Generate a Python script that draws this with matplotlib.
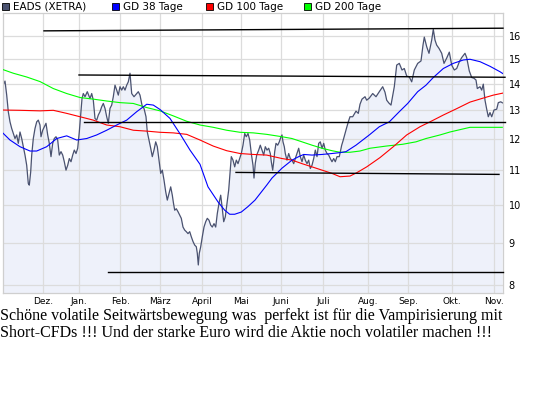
import matplotlib
matplotlib.use("Agg")
import matplotlib.pyplot as plt
from matplotlib.patches import Rectangle
from matplotlib.ticker import FixedLocator, NullLocator, FuncFormatter

# Zeitachse: Position der Handelstage auf dem Chart (0 = linker Rand), Kurse in EUR
kurs_t = [2.7, 5, 6.7, 8.3, 10, 11.7, 13.3, 15, 16.7, 18.3, 20, 21.7, 23.3, 25, 26.7, 28.3, 29.3, 30.7,
          31.7, 33.3, 35, 36.7, 38.3, 40, 41, 42.7, 44.3, 46, 47.7, 49.3, 51, 52.7, 54.3, 56, 57.7, 59.3,
          61, 62.7, 64.3, 66, 67.7, 69.3, 71, 72.7, 74.3, 76, 77.7, 79.3, 80.7, 82, 83.3, 85, 87.3, 90,
          91.7, 93.3, 95, 96.7, 98.3, 100, 101.7, 103.3, 105, 106.7, 108.3, 110, 111.7, 113.3, 115, 116.7,
          118.3, 120, 121.7, 123.3, 125, 126.7, 128.3, 130, 131.7, 134, 136.7, 138.3, 140, 142.3, 144, 146,
          147.3, 149, 150.7, 152.3, 154, 155.7, 157.3, 159, 160.7, 162.3, 164, 165.7, 167.3, 169, 170.7,
          172.3, 173.5, 174.7, 176.3, 178, 179.7, 181.3, 183, 184.7, 186.3, 188, 189.7, 191.3, 193, 194.7,
          196.3, 197.3, 198.3, 199.3, 200.7, 202.3, 204, 205.7, 207.3, 209, 210.7, 212.3, 214, 215.7,
          217.3, 219, 220.7, 221.3, 222.3, 223.7, 225.3, 227, 228.7, 230, 231.3, 233, 234.7, 236.3, 238,
          239.7, 241.3, 243, 244.7, 246.3, 248, 249.7, 251.3, 253, 254, 255.3, 256.7, 258.7, 260.3, 262,
          263.7, 265.3, 267, 268.7, 270.3, 271.3, 272.7, 273.7, 274.7, 276, 277.7, 279.3, 281, 282, 283,
          284.3, 285.3, 287, 288.7, 290.3, 292, 293.7, 295.3, 297, 298.7, 300.3, 302, 303.7, 305.3, 307,
          308.7, 310.3, 312, 313.7, 315.3, 317, 318.7, 320.3, 322, 323.7, 325.3, 327, 328.7, 330.3, 332,
          333.7, 335.3, 337, 339.3, 341.7, 343, 345, 346.5, 348.3, 350, 352.7, 356, 358.3, 360, 362, 365,
          366.7, 369.3, 372.7, 376, 379.3, 382.7, 385, 386.7, 389, 391, 394.3, 396.7, 399.3, 402, 404.3,
          406.7, 409.3, 411.7, 414.3, 417.7, 421, 423, 424.3, 426.7, 429, 431.7, 433.3, 435, 436.7, 439,
          441.7, 444, 446.7, 449.3, 451.7, 454.3, 456.7, 459.3, 461.7, 465, 466.7, 469.3, 471.7, 474, 476,
          477.3, 480, 481.7, 483.3, 485, 486.7, 488.3, 490, 491.7, 494, 496.7, 498.3, 500.7, 502.7]
kurs = [13.91, 14.10, 13.56, 12.95, 12.59, 12.36, 12.19, 12.02, 12.14, 11.86, 12.24, 12.02, 11.75, 11.48,
        11.16, 10.61, 10.56, 10.96, 11.48, 12.02, 12.36, 12.59, 12.65, 12.48, 12.08, 12.30, 12.42, 12.54,
        12.14, 11.86, 11.43, 11.86, 12.02, 12.08, 11.97, 11.48, 11.59, 11.48, 11.27, 11.01, 11.16, 11.37,
        11.27, 11.48, 11.64, 11.53, 11.70, 12.24, 12.83, 13.43, 13.62, 13.50, 13.69, 13.43, 13.62, 13.37,
        12.71, 12.65, 12.83, 12.95, 13.13, 13.25, 13.07, 12.77, 12.54, 13.07, 13.19, 13.50, 13.94, 13.75,
        13.56, 13.88, 13.75, 13.88, 13.75, 13.94, 14.07, 14.41, 13.62, 13.50, 13.62, 13.69, 13.56, 13.13,
        13.07, 12.77, 12.24, 11.97, 11.70, 11.43, 11.64, 11.91, 11.75, 11.32, 10.91, 11.01, 10.71, 10.37,
        10.13, 10.32, 10.51, 10.27, 10.04, 9.85, 9.89, 9.81, 9.72, 9.63, 9.40, 9.32, 9.28, 9.23, 9.28,
        9.15, 9.03, 8.94, 8.90, 8.74, 8.46, 8.74, 8.90, 9.15, 9.40, 9.54, 9.63, 9.58, 9.45, 9.40, 9.49,
        9.40, 9.76, 10.04, 10.27, 10.13, 9.89, 9.54, 9.67, 10.04, 10.42, 10.91, 11.43, 11.32, 11.11, 11.32,
        11.21, 11.37, 11.53, 11.80, 12.19, 12.08, 12.19, 11.97, 11.53, 11.16, 10.77, 11.22, 11.48, 11.64,
        11.80, 11.64, 11.48, 11.75, 11.64, 11.70, 11.53, 11.27, 11.01, 11.27, 11.59, 11.86, 11.80, 11.91,
        12.08, 12.14, 11.91, 11.75, 11.53, 11.32, 11.53, 11.37, 11.32, 11.21, 11.37, 11.53, 11.70, 11.43,
        11.27, 11.48, 11.32, 11.21, 11.32, 11.06, 11.16, 11.37, 11.64, 11.43, 11.86, 11.91, 11.70, 11.86,
        11.64, 11.53, 11.48, 11.37, 11.27, 11.37, 11.27, 11.43, 11.43, 11.80, 11.94, 12.19, 12.37, 12.59,
        12.77, 12.77, 12.97, 12.89, 13.22, 13.41, 13.50, 13.37, 13.45, 13.62, 13.50, 13.69, 13.88, 13.67,
        13.37, 13.26, 13.19, 13.88, 14.74, 14.81, 14.54, 14.60, 14.30, 14.26, 14.07, 14.54, 14.81, 14.91,
        15.58, 15.93, 15.51, 15.23, 15.80, 16.28, 15.80, 15.58, 15.44, 15.23, 14.81, 15.03, 15.28, 14.74,
        14.54, 14.60, 14.87, 15.05, 15.23, 15.05, 14.50, 14.24, 14.21, 14.14, 13.81, 13.88, 13.75, 13.98,
        13.37, 13.04, 12.77, 12.92, 12.77, 13.01, 13.04, 13.28, 13.31, 13.27]

gd38_t = [2.7, 10, 20, 30, 36.7, 46.7, 56.7, 66.7, 76.7, 86.7, 96.7, 106.7, 116.7, 126.7, 136.7, 146.7,
          153.3, 160, 170, 180, 190, 200, 208, 218, 224.7, 229.7, 234.7, 241.3, 248, 255, 266.7, 272, 282,
          292, 298.7, 303.7, 312, 322, 332, 340.3, 346, 356, 369.3, 379.3, 389.3, 399.3, 407.7, 417.7, 426,
          433.3, 443.3, 453.3, 463.3, 470, 480, 490, 500, 502.7]
gd38 = [12.21, 11.97, 11.75, 11.61, 11.61, 11.75, 12.02, 12.11, 11.97, 12.02, 12.14, 12.30, 12.48, 12.65,
        12.95, 13.22, 13.19, 13.03, 12.71, 12.18, 11.64, 11.19, 10.51, 10.08, 9.85, 9.74, 9.74, 9.80, 9.95,
        10.13, 10.56, 10.77, 11.07, 11.32, 11.43, 11.50, 11.48, 11.50, 11.53, 11.56, 11.59, 11.80, 12.14,
        12.42, 12.59, 12.95, 13.25, 13.69, 13.94, 14.24, 14.60, 14.81, 14.95, 14.98, 14.88, 14.69, 14.47,
        14.40]

gd100_t = [2.7, 20, 40, 53.3, 66.7, 80, 93.3, 106.7, 120, 133.3, 146.7, 160, 173.3, 186.7, 200, 213.3,
           226.7, 240, 253.3, 266.7, 282, 292, 302, 312, 322, 332, 340, 350, 356.7, 366.7, 380, 393.3,
           406.7, 420, 430, 443.3, 456.7, 470, 483.3, 493.3, 503.3]
gd100 = [13.01, 13.00, 12.98, 13.00, 12.89, 12.77, 12.65, 12.48, 12.42, 12.30, 12.27, 12.23, 12.21, 12.16,
         11.97, 11.77, 11.62, 11.53, 11.50, 11.48, 11.37, 11.32, 11.21, 11.11, 11.01, 10.91, 10.81, 10.83,
         10.93, 11.11, 11.40, 11.75, 12.14, 12.42, 12.59, 12.83, 13.06, 13.30, 13.45, 13.56, 13.64]

gd200_t = [2.7, 13.3, 26.7, 40, 53.3, 66.7, 80, 93.3, 106.7, 120, 133.3, 146.7, 160, 173.3, 186.7, 200,
           213.3, 226.7, 240, 253.3, 266.7, 282, 292, 302, 312, 322, 332, 340, 350, 360, 370, 386, 402.7,
           416, 426, 440, 450, 460, 470, 486.7, 502.3]
gd200 = [14.56, 14.41, 14.26, 14.08, 13.81, 13.62, 13.47, 13.41, 13.34, 13.28, 13.25, 13.10, 12.98, 12.80,
         12.61, 12.48, 12.40, 12.30, 12.23, 12.21, 12.16, 12.08, 12.02, 11.91, 11.80, 11.70, 11.62, 11.57,
         11.57, 11.61, 11.70, 11.77, 11.83, 11.91, 12.02, 12.14, 12.24, 12.32, 12.40, 12.40, 12.40]

monate = ["Dez.", "Jan.", "Feb.", "März", "April", "Mai", "Juni", "Juli", "Aug.", "Sep.", "Okt.", "Nov."]
monat_t = [42.7, 79.3, 120.3, 159.7, 202.3, 241, 280.7, 323.3, 368.3, 408.3, 451.7, 494]

# eingezeichnete Unterstuetzungen/Widerstaende: Start und Ende
linie_t0 = [44, 79, 84, 236, 108]
linie_w0 = [16.21, 14.34, 12.57, 10.94, 8.29]
linie_t1 = [503, 505, 505, 499, 503]
linie_w1 = [16.33, 14.25, 12.57, 10.88, 8.29]

kommentar = ["Schöne volatile Seitwärtsbewegung was  perfekt ist für die Vampirisierung mit",
             "Short-CFDs !!! Und der starke Euro wird die Aktie noch volatiler machen !!!"]

W, H = 545, 395
fig = plt.figure(figsize=(W / 100, H / 100), dpi=100)
fig.patch.set_facecolor("white")
ax = fig.add_axes([2.7 / W, 1 - 293.3 / H, 500.6 / W, 280 / H])

ax.set_yscale("log")
ax.set_xlim(2.7, 503.3)
ax.set_ylim(7.82, 17.02)

ax.fill_between(kurs_t, kurs, 1, color="#eef1fa", lw=0, zorder=0.3)
ax.plot(kurs_t, kurs, color="#4a5270", lw=0.9, zorder=2)
ax.plot(gd200_t, gd200, color="#00ff00", lw=0.8, zorder=3)
ax.plot(gd100_t, gd100, color="#ff0000", lw=0.8, zorder=3)
ax.plot(gd38_t, gd38, color="#0000ff", lw=0.8, zorder=3)
for t0, w0, t1, w1 in zip(linie_t0, linie_w0, linie_t1, linie_w1):
    ax.plot([t0, t1], [w0, w1], color="black", lw=1.0, zorder=4, clip_on=False)

ax.yaxis.set_major_locator(FixedLocator(list(range(8, 17))))
ax.yaxis.set_minor_locator(NullLocator())
ax.yaxis.set_major_formatter(FuncFormatter(lambda v, p: "%d" % v))
ax.yaxis.tick_right()
ax.set_xticks(monat_t)
ax.set_xticklabels(monate)
ax.tick_params(axis="both", length=0, labelsize=6.5, colors="black")
ax.tick_params(axis="y", pad=4, labelsize=7)
ax.tick_params(axis="x", pad=3)

ax.grid(True, color="#dcdcdc", lw=0.9)
ax.set_axisbelow(True)
for s in ax.spines.values():
    s.set_color("#cfcfcf")
    s.set_linewidth(0.9)

# Legende oben
leg_names = ["EADS (XETRA)", "GD 38 Tage", "GD 100 Tage", "GD 200 Tage"]
leg_colors = ["#4a5270", "#0000ff", "#ff0000", "#00ff00"]
leg_x = [2, 112, 206, 304]
for name, col, x in zip(leg_names, leg_colors, leg_x):
    fig.add_artist(Rectangle((x / W, 1 - 10 / H), 7 / W, 7 / H, transform=fig.transFigure,
                             facecolor=col, edgecolor="black", lw=0.6))
    fig.text((x + 11) / W, 1 - 6.5 / H, name, fontsize=7.5, va="center", ha="left")

for i, zeile in enumerate(kommentar):
    fig.text(0, 1 - (316 + 17 * i) / H, zeile, family="Liberation Serif", fontsize=11.5,
             va="center", ha="left")

fig.savefig("out.png", dpi=100)
